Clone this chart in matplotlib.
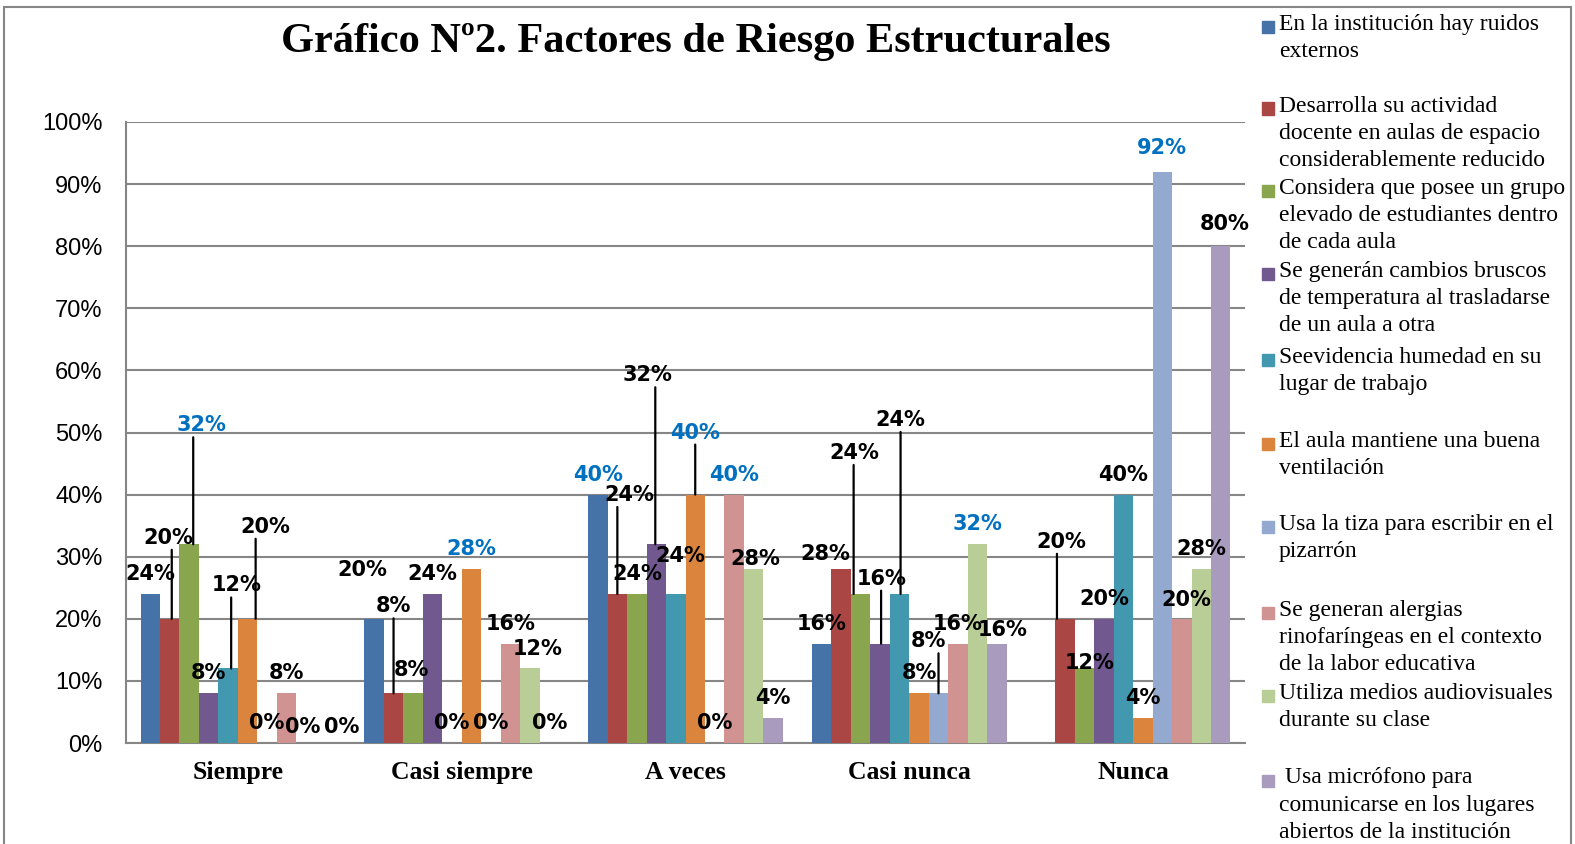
import matplotlib
matplotlib.use("Agg")
import matplotlib.pyplot as plt
import matplotlib.transforms as mtransforms
from matplotlib.patches import Rectangle
from matplotlib.ticker import PercentFormatter

# Datos del gráfico (porcentajes por categoría de respuesta)
categorias = ["Siempre", "Casi siempre", "A veces", "Casi nunca", "Nunca"]

ruidos = [24, 20, 40, 16, 0]
espacio = [20, 8, 24, 28, 20]
grupo = [32, 8, 24, 24, 12]
temperatura = [8, 24, 32, 16, 20]
humedad = [12, 0, 24, 24, 40]
ventilacion = [20, 28, 40, 8, 4]
tiza = [0, 0, 0, 8, 92]
alergias = [8, 16, 40, 16, 20]
audiovisual = [0, 12, 28, 32, 28]
microfono = [0, 0, 4, 16, 80]

leyendas = [
    "En la institución hay ruidos\nexternos",
    "Desarrolla su actividad\ndocente en aulas de espacio\nconsiderablemente reducido",
    "Considera que posee un grupo\nelevado de estudiantes dentro\nde cada aula",
    "Se generán cambios bruscos\nde temperatura al trasladarse\nde un aula a otra",
    "Seevidencia humedad en su\nlugar de trabajo",
    "El aula mantiene una buena\nventilación",
    "Usa la tiza para escribir en el\npizarrón",
    "Se generan alergias\nrinofaríngeas en el contexto\nde la labor educativa",
    "Utiliza medios audiovisuales\ndurante su clase",
    " Usa micrófono para\ncomunicarse en los lugares\nabiertos de la institución",
]

series = [ruidos, espacio, grupo, temperatura, humedad,
          ventilacion, tiza, alergias, audiovisual, microfono]
colores = ["#4572A7", "#AA4643", "#89A54E", "#71588F", "#4198AF",
           "#DB843D", "#93A9CF", "#D19392", "#B9CD96", "#A99BBD"]

# Ajustes de etiquetas: (serie, categoria) -> (dx, dy, x de la linea guia o None) en pixeles
ajustes = {
    (1, 0): (-1, 81, 2), (2, 0): (12, 119, 4), (4, 0): (8, 83, 3),
    (5, 0): (18, 92, 8), (8, 0): (-3, 16, None), (9, 0): (16, 16, None),
    (0, 1): (-12, 49, None), (1, 1): (0, 87, 0), (2, 1): (-2, 23, None),
    (8, 1): (8, 19, None),
    (1, 2): (12, 99, 0), (3, 2): (-9, 169, -1), (4, 2): (5, 38, None),
    (5, 2): (0, 62, 0), (8, 2): (2, 10, None),
    (1, 3): (-16, 15, None), (2, 3): (-6, 141, -7), (3, 3): (2, 65, 1),
    (4, 3): (1, 174, 1), (6, 3): (-10, 52, 0), (9, 3): (6, 14, None),
    (1, 4): (-4, 77, -8), (2, 4): (5, 5, None), (6, 4): (0, 24, None),
    (7, 4): (5, 19, None), (9, 4): (4, 22, None),
}
azules = {(2, 0), (5, 1), (0, 2), (5, 2), (7, 2), (8, 3), (6, 4)}
sin_etiqueta = {(0, 4)}

W, H = 1575, 844
fig = plt.figure(figsize=(W / 100, H / 100), dpi=100)
ax = fig.add_axes([126 / W, 1 - 743 / H, (1245 - 126) / W, (743 - 122) / H])

ancho = 0.087
for j, valores in enumerate(series):
    xs = [i - 0.435 + ancho * (j + 0.5) for i in range(len(categorias))]
    ax.bar(xs, valores, width=ancho, color=colores[j], zorder=3)
    for i, (x, v) in enumerate(zip(xs, valores)):
        if (j, i) in sin_etiqueta:
            continue
        dx, dy, guia = ajustes.get((j, i), (0, 20, None))
        color = "#0070C0" if (j, i) in azules else "black"
        ax.annotate(f"{v}%", xy=(x, v), xytext=(dx, dy), textcoords="offset pixels",
                    ha="center", va="center", fontsize=15, fontweight="bold",
                    family="DejaVu Sans", color=color, zorder=5)
        if guia is not None:
            tr = mtransforms.offset_copy(ax.transData, fig=fig, x=guia, y=0, units="dots")
            ax.annotate("", xy=(x, v), xycoords=tr, xytext=(0, dy - 12),
                        textcoords="offset pixels",
                        arrowprops=dict(arrowstyle="-", lw=1.6, color="black",
                                        shrinkA=0, shrinkB=0), zorder=4)

ax.set_xlim(-0.5, len(categorias) - 0.5)
ax.set_ylim(0, 100)
ax.set_yticks(range(0, 101, 10))
ax.yaxis.set_major_formatter(PercentFormatter(decimals=0))
ax.set_xticks(range(len(categorias)))
ax.set_xticklabels(categorias, fontsize=18.5, fontweight="bold", family="Liberation Serif")
ax.tick_params(axis="x", length=0, pad=13)
ax.tick_params(axis="y", length=0, pad=17, labelsize=17)
for lab in ax.get_yticklabels():
    lab.set_family("Liberation Sans")
ax.grid(axis="y", color="#868686", lw=1.5, zorder=0)
for s in ["top", "right"]:
    ax.spines[s].set_visible(False)
for s in ["left", "bottom"]:
    ax.spines[s].set_color("#868686")
    ax.spines[s].set_linewidth(1.5)

fig.text(696 / W, 1 - 42 / H, "Gráfico Nº2. Factores de Riesgo Estructurales",
         ha="center", va="center", fontsize=30.5, fontweight="bold",
         family="Liberation Serif")

# Leyenda dibujada a mano (posiciones como en Excel)
y_ley = [27, 108.5, 191, 274, 360, 444, 527, 613, 696, 780.5]
for texto, color, yc in zip(leyendas, colores, y_ley):
    fig.patches.append(Rectangle((1262 / W, 1 - (yc + 6) / H), 12 / W, 12 / H,
                                 transform=fig.transFigure, color=color))
    fig.text(1279 / W, 1 - (yc - 13) / H, texto, ha="left", va="top",
             fontsize=17, family="Liberation Serif", linespacing=1.38)

# Borde exterior del gráfico
fig.patches.append(Rectangle((4 / W, -0.01), (W - 8) / W, 1 - 7 / H + 0.01,
                             transform=fig.transFigure, fill=False,
                             edgecolor="#868686", lw=1.5))

fig.savefig("out.png", dpi=100)
